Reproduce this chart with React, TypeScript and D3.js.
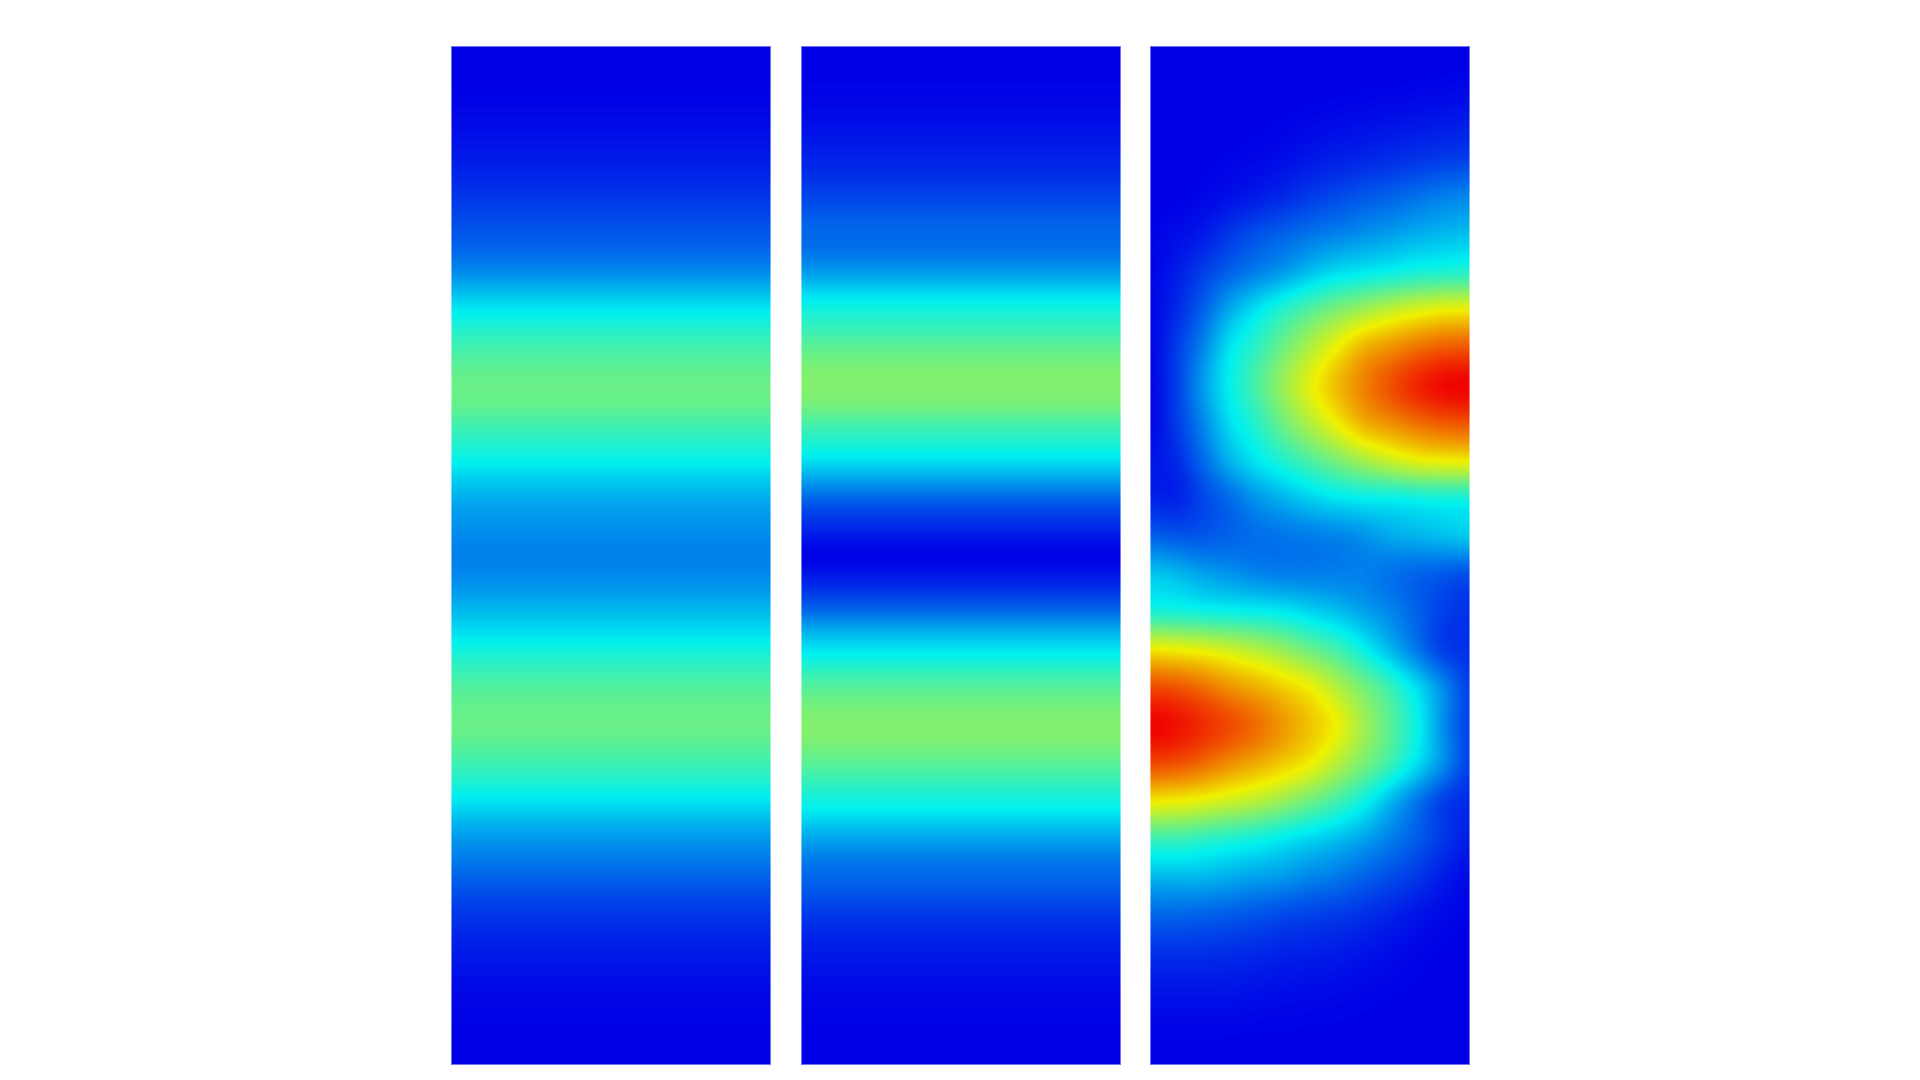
import React from 'react';
import * as d3 from 'd3';

const panelNames = ['left', 'middle', 'right'];

// values, top to bottom, 0..1
const leftProfile = [
  0, .001, .005, .015, .03, .05, .08, .11, .145, .205, .295, .375, .435, .475, .475, .42, .36, .29, .23, .20, .18,
  .20, .25, .31, .38, .44, .475, .475, .43, .37, .29, .22, .17, .12, .08, .05, .03, .015, .006, .002, 0,
];
const middleProfile = [
  0, .002, .008, .02, .04, .065, .10, .14, .16, .23, .335, .405, .475, .515, .50, .42, .34, .23, .12, .05, .005,
  .05, .13, .25, .35, .44, .50, .515, .47, .40, .33, .24, .17, .13, .085, .05, .03, .015, .006, .002, 0,
];
const rightRows = [
  [0, 0, 0, 0, 0, 0, 0, 0, 0, 0, 0, 0, 0],
  [0, 0, 0, 0, 0, 0, 0, 0, .002, .003, .005, .007, .01],
  [0, 0, 0, 0, .002, .005, .01, .015, .02, .025, .03, .035, .04],
  [0, 0, .002, .006, .012, .02, .035, .045, .055, .065, .075, .085, .09],
  [0, .002, .01, .025, .04, .06, .085, .105, .125, .14, .16, .18, .19],
  [.005, .02, .04, .08, .115, .14, .165, .185, .205, .225, .245, .26, .27],
  [.01, .04, .09, .14, .18, .22, .27, .31, .33, .35, .37, .38, .39],
  [.01, .06, .14, .24, .32, .39, .455, .51, .56, .605, .64, .665, .67],
  [.01, .085, .19, .32, .40, .49, .58, .667, .755, .80, .845, .875, .885],
  [.01, .09, .22, .34, .44, .55, .65, .74, .82, .89, .95, .99, 1],
  [.01, .085, .19, .31, .39, .49, .58, .667, .755, .80, .845, .875, .885],
  [.03, .06, .15, .25, .32, .38, .44, .50, .56, .61, .65, .665, .67],
  [.05, .05, .10, .15, .21, .25, .29, .32, .335, .34, .35, .36, .36],
  [.14, .125, .125, .14, .155, .165, .175, .185, .205, .235, .25, .265, .28],
  [.28, .26, .23, .21, .19, .18, .18, .18, .18, .16, .14, .125, .11],
  [.375, .37, .36, .35, .345, .33, .30, .27, .23, .19, .14, .09, .07],
  [.68, .667, .65, .62, .585, .54, .485, .43, .35, .26, .17, .09, .07],
  [.90, .885, .85, .80, .76, .715, .665, .585, .50, .415, .31, .195, .09],
  [1, .98, .94, .90, .85, .79, .73, .665, .56, .46, .35, .20, .09],
  [.905, .89, .855, .805, .765, .72, .67, .59, .505, .42, .315, .20, .09],
  [.68, .67, .65, .62, .59, .545, .49, .43, .355, .26, .17, .09, .06],
  [.42, .42, .40, .38, .36, .33, .30, .27, .23, .18, .13, .08, .04],
  [.26, .26, .26, .245, .23, .215, .19, .17, .14, .11, .08, .04, .015],
  [.145, .145, .14, .13, .12, .105, .095, .085, .07, .05, .03, .015, .005],
  [.07, .07, .07, .065, .06, .05, .045, .04, .03, .02, .01, .003, 0],
  [.03, .03, .03, .03, .025, .02, .018, .015, .01, .006, .003, 0, 0],
  [.008, .008, .008, .007, .006, .005, .004, .003, .002, .001, 0, 0, 0],
  [0, 0, 0, 0, 0, 0, 0, 0, 0, 0, 0, 0, 0],
];

const panelRows = [
  leftProfile.map((v) => [v, v]),
  middleProfile.map((v) => [v, v]),
  rightRows,
];

const width = 1920;
const height = 1080;
const smoothing = 4; // display resampling, like imshow's interpolation
const panelWidth = 320;

const x = d3.scaleBand().domain(panelNames).range([451, 1470]).paddingInner(0.086);
const y = d3.scaleLinear().domain([0, 1]).range([46, 1065]);

const color = d3.scaleLinear<string>()
  .domain([0, 1 / 3, 2 / 3, 1])
  .range(['#0000e6', '#00f0f0', '#f0f000', '#f00000']);

const thresholds = d3.range(0, 240).map((i) => i / 240);

// catmull-rom between neighbouring read values
function resample(line: number[]) {
  const last = line.length - 1;
  const at = (i: number) => line[Math.max(0, Math.min(last, i))];
  return d3.range(last * smoothing + 1).map((k) => {
    const i = Math.floor(k / smoothing);
    const t = k / smoothing - i;
    const [a, b, c, d] = [at(i - 1), at(i), at(i + 1), at(i + 2)];
    const v = b + 0.5 * t * (c - a + t * (2 * a - 5 * b + 4 * c - d + t * (3 * (b - c) + d - a)));
    return Math.min(1, Math.max(0, v));
  });
}

function smooth(rows: number[][]) {
  const wide = rows.map(resample);
  const cols = d3.transpose(wide).map(resample);
  return d3.transpose(cols) as number[][];
}

function Panel({ name, rows }: { name: string; rows: number[][] }) {
  const grid = smooth(rows);
  const m = grid.length;
  const n = grid[0].length;
  const left = Math.round(x(name) as number);
  const sx = d3.scaleLinear().domain([0.5, n - 0.5]).range([left, left + panelWidth]);
  const sy = d3.scaleLinear().domain([0.5, m - 0.5]).range(y.range());
  const path = d3.geoPath(d3.geoTransform({
    point(px, py) { this.stream.point(sx(px), sy(py)); },
  }));
  const bands = d3.contours().size([n, m]).thresholds(thresholds)(grid.flat());
  return (
    <g>
      <clipPath id={`clip-${name}`}>
        <rect x={left} y={y(0)} width={panelWidth} height={y(1) - y(0)} />
      </clipPath>
      <g clipPath={`url(#clip-${name})`}>
        {bands.map((b) => (
          <path key={b.value} d={path(b) ?? undefined} fill={color(b.value)} />
        ))}
      </g>
      {/* soft image edge */}
      <rect
        x={left + 0.5}
        y={y(0) + 0.5}
        width={panelWidth - 1}
        height={y(1) - y(0) - 1}
        fill="none"
        stroke="#fff"
        strokeOpacity={0.45}
      />
    </g>
  );
}

export default function App() {
  return (
    <svg width={width} height={height} style={{ position: 'fixed', left: 0, top: 0, background: '#fff' }}>
      {panelNames.map((name, i) => (
        <Panel key={name} name={name} rows={panelRows[i]} />
      ))}
    </svg>
  );
}
